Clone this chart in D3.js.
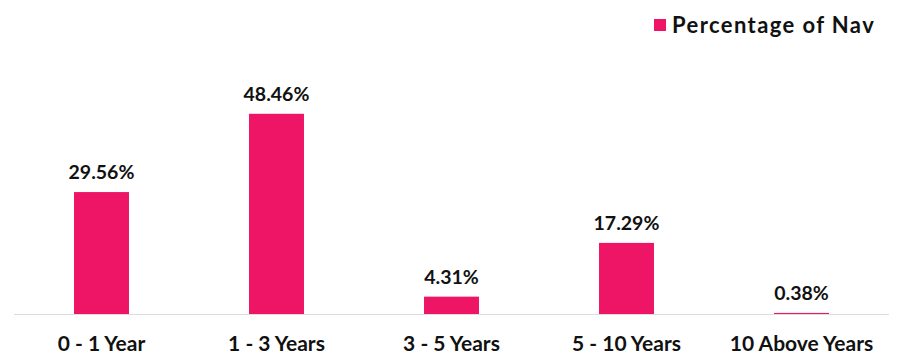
<!DOCTYPE html>
<html><head><meta charset="utf-8">
<script src="https://cdn.jsdelivr.net/npm/d3@7/dist/d3.min.js"></script>
<style>body{margin:0;background:#fff}svg{display:block;font-family:Lato,sans-serif}</style>
</head><body><svg id="c" width="897" height="361"></svg>
<script>
const categories = ["0 - 1 Year","1 - 3 Years","3 - 5 Years","5 - 10 Years","10 Above Years"];
const values = [29.56, 48.46, 4.31, 17.29, 0.38];
const seriesName = "Percentage of Nav";
const color = "#EE1466";

const svg = d3.select("#c");
const x = d3.scaleBand().domain(categories).range([14, 889]).paddingInner(0.686).paddingOuter(0.343);
const y = d3.scaleLinear().domain([0, 60]).range([314.5, 66]);

svg.append("g").selectAll("rect").data(values).join("rect")
  .attr("x", (d,i)=>x(categories[i]))
  .attr("width", x.bandwidth())
  .attr("y", d=>y(d))
  .attr("height", d=>Math.max(1.5, y(0)-y(d)))
  .attr("fill", color);

svg.append("line").attr("x1",14).attr("x2",889).attr("y1",314.5).attr("y2",314.5)
  .attr("stroke","#dddddd").attr("stroke-width",1);

svg.append("g").selectAll("text").data(values).join("text")
  .attr("x",(d,i)=>x(categories[i])+x.bandwidth()/2)
  .attr("y",d=>y(d)-13)
  .attr("text-anchor","middle").attr("font-size",19.5).attr("font-weight",700)
  .attr("fill","#111")
  .text(d=>d.toFixed(2)+"%");

const xa = d3.axisBottom(x).tickSize(0).tickPadding(0);
const g = svg.append("g").attr("transform","translate(0,314.5)").call(xa);
g.select(".domain").remove();
g.selectAll("text").attr("font-family","Lato,sans-serif").attr("font-size",21).attr("font-weight",700)
  .attr("fill","#111").attr("dy",0).attr("y",36.5);

const lg = svg.append("g");
lg.append("rect").attr("x",654).attr("y",19).attr("width",12).attr("height",12).attr("fill",color);
lg.append("text").attr("x",672).attr("y",33).attr("font-size",22).attr("font-weight",700)
  .attr("fill","#111").attr("letter-spacing",1.4).text(seriesName);
</script></body></html>
